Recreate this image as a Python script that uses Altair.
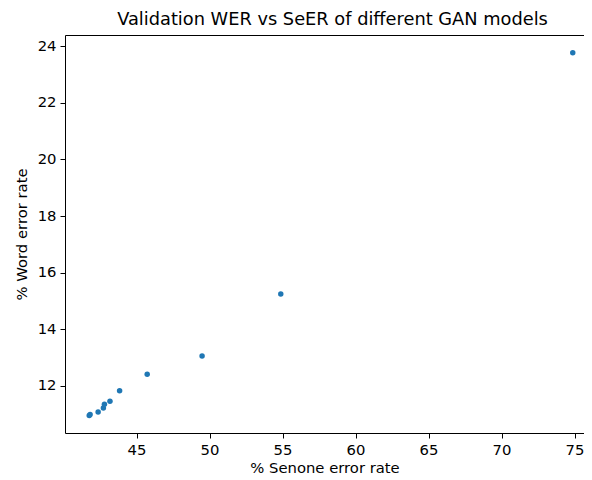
import altair as alt
import pandas as pd

seer = [41.76, 41.82, 42.37, 42.73, 42.80, 43.18, 43.84, 45.73, 49.49, 54.88, 74.88]
wer = [10.95, 10.98, 11.07, 11.21, 11.35, 11.45, 11.82, 12.41, 13.05, 15.24, 23.77]
x_ticks = [45, 50, 55, 60, 65, 70, 75]
y_ticks = [12, 14, 16, 18, 20, 22, 24]

df = pd.DataFrame({"seer": seer, "wer": wer})

FONT = "DejaVu Sans"
FS = 14.8

chart = alt.Chart(df).mark_circle(size=30, color="#1f77b4", opacity=1).encode(
    x=alt.X("seer:Q", scale=alt.Scale(domain=[40.1, 75.65], nice=False, zero=False),
            axis=alt.Axis(title="% Senone error rate", values=x_ticks, grid=False, domain=False,
                          tickColor="black", tickSize=5, labelPadding=4, labelFontSize=FS,
                          labelColor="black", titleFontSize=FS, titleColor="black",
                          titleFontWeight="normal", titlePadding=4, labelFont=FONT, titleFont=FONT)),
    y=alt.Y("wer:Q", scale=alt.Scale(domain=[10.33, 24.4], nice=False, zero=False),
            axis=alt.Axis(title="% Word error rate", values=y_ticks, grid=False, domain=False,
                          tickColor="black", tickSize=5, labelPadding=4, labelFontSize=FS,
                          labelColor="black", titleFontSize=FS, titleColor="black",
                          titleFontWeight="normal", titlePadding=8, labelFont=FONT, titleFont=FONT)),
).properties(
    width=519,
    height=398,
    title=alt.TitleParams("Validation WER vs SeER of different GAN models", font=FONT,
                          fontSize=17.8, fontWeight="normal", color="black", anchor="middle",
                          offset=6, dx=8),
    autosize=alt.AutoSizeParams(type="none"),
    padding={"left": 57, "top": 27, "right": 0, "bottom": 45},
).configure_view(stroke="black", strokeWidth=1)

chart.save("out.html", embed_options={"renderer": "svg", "actions": False})
